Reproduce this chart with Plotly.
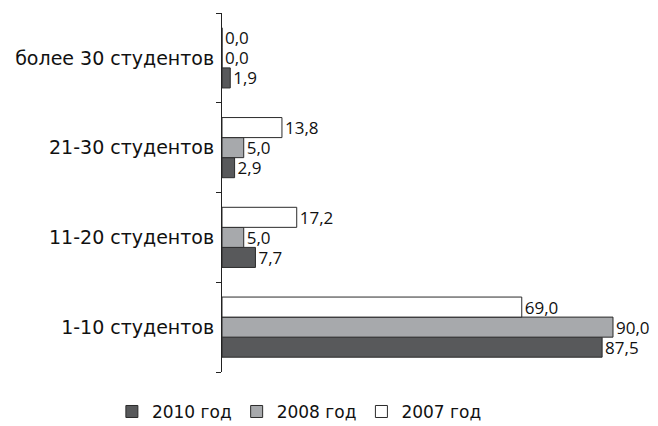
import plotly.graph_objects as go

categories = ["1-10 студентов", "11-20 студентов", "21-30 студентов", "более 30 студентов"]
series_names = ["2010 год", "2008 год", "2007 год"]
values_2010 = [87.5, 7.7, 2.9, 1.9]
values_2008 = [90.0, 5.0, 5.0, 0.0]
values_2007 = [69.0, 17.2, 13.8, 0.0]

fills = ["#58595b", "#a7a9ac", "#ffffff"]


def fmt(v):
    return f"{v:.1f}".replace(".", ",")


fig = go.Figure()
for name, vals, col in zip(series_names, [values_2010, values_2008, values_2007], fills):
    fig.add_trace(go.Bar(
        y=categories, x=vals, orientation="h", name=name,
        marker=dict(color=col, line=dict(color="#2b2b2b", width=1)),
        text=[fmt(v) for v in vals], textposition="outside",
        textfont=dict(family="Open Sans", size=17, color="#111"),
        cliponaxis=False, constraintext="none",
    ))

fig.update_layout(
    width=658, height=426,
    margin=dict(l=222, r=10, t=13, b=54),
    barmode="group", bargap=0.33, bargroupgap=0,
    paper_bgcolor="white", plot_bgcolor="white",
    font=dict(family="DejaVu Sans", size=17, color="#111"),
    showlegend=True,
    legend=dict(orientation="h", xref="container", x=0.455, xanchor="center",
                yref="container", y=0.033, yanchor="middle",
                font=dict(family="DejaVu Sans", size=17), traceorder="normal",
                itemwidth=30),
    xaxis=dict(range=[0, 98.06], visible=False, showgrid=False, zeroline=False),
    yaxis=dict(showline=True, linecolor="#222", linewidth=1, ticks="outside",
               tickson="boundaries", ticklen=5, tickcolor="#222",
               showgrid=False, tickfont=dict(family="DejaVu Sans", size=19),
               ticklabelstandoff=3),
)

fig.write_html("out.html")
